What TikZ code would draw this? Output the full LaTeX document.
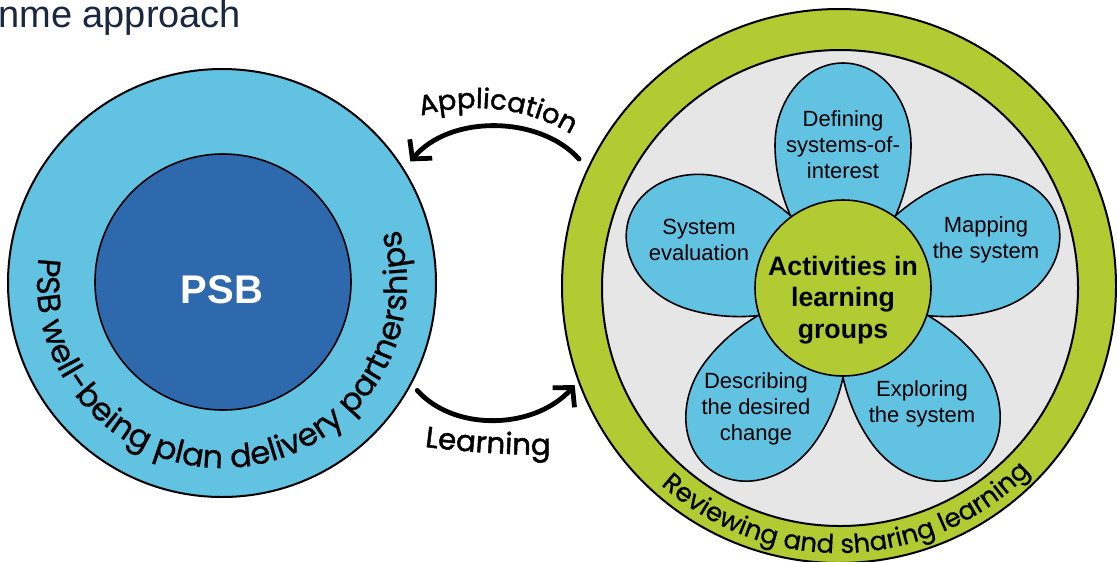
\documentclass[tikz,border=0pt]{standalone}
\usepackage{fontspec}
\setmainfont{Liberation Sans}
\newfontfamily\ringfont[FakeBold=0.6]{Poppins}
\newfontfamily\arrowfont[FakeBold=1.6]{Poppins}
\usetikzlibrary{decorations.text,arrows.meta}

\definecolor{ringblue}{HTML}{62C2E2}
\definecolor{psbblue}{HTML}{2E69AD}
\definecolor{leafgreen}{HTML}{B2CB32}
\definecolor{panelgrey}{HTML}{E6E6E6}
\definecolor{headnavy}{HTML}{1B2740}

\tikzset{
    petal/.pic={
        \draw[fill=ringblue, line width=1.2pt] (0,0) .. controls (40,45) and (95,68) .. (143,68)
            arc[start angle=90, end angle=-90, x radius=82, y radius=68]
            .. controls (95,-68) and (40,-45) .. cycle;
    }
}

\begin{document}
\begin{tikzpicture}[x=0.75pt, y=0.75pt,
        ring/.style={circle, draw=black, line width=1.5pt, inner sep=0pt, outer sep=0pt},
        petal text/.style={align=center, font=\fontsize{16.5}{19.5}\selectfont},
        loop arrow/.style={line width=3.6pt, line cap=round, -{Straight Barb[length=10pt, width=22pt]}}]
            \useasboundingbox (0,0) rectangle (1117,-561);

            \node[anchor=base west, inner sep=0pt, text=headnavy, font=\fontsize{28.5}{34}\selectfont] (title) at (-2,-27) {nme approach};

            \node[ring, fill=ringblue, minimum size=321pt] (partners) at (222,-283) {};
            \node[ring, fill=psbblue, minimum size=192pt, line width=1.2pt] (psb) at (223,-282) {};
            \node[text=white, font=\bfseries\fontsize{30}{36}\selectfont] (psblabel) at (222,-290) {PSB};
            \path[decorate, decoration={text along path, text align=center,
                text={|\ringfont\fontsize{24}{28}\selectfont|PSB well-being plan delivery partnerships}}]
                ([shift={(104.5:185)}]partners.center) arc[start angle=104.5, end angle=444.5, radius=185];

            \node[ring, fill=leafgreen, minimum size=415.5pt] (review) at (839,-286) {};
            \node[ring, fill=panelgrey, minimum size=357pt] (groups) at (840,-288) {};
            \path[decorate, decoration={text along path, text align=center,
                text={|\ringfont\fontsize{19.5}{24}\selectfont|Reviewing and sharing learning}}]
                ([shift={(192:267)}]review.center) arc[start angle=192, end angle=352, radius=267];

            \pic[rotate=90] at (843,-288) {petal};
            \pic[rotate=18] at (843,-288) {petal};
            \pic[rotate=-54] at (843,-288) {petal};
            \pic[rotate=-126] at (843,-288) {petal};
            \pic[rotate=162] at (843,-288) {petal};

            \node[ring, fill=leafgreen, minimum size=132pt, line width=1.2pt] (hub) at (843,-288) {};
            \node[align=center, font=\bfseries\fontsize{20}{23.5}\selectfont] (hublabel) at (843,-300) {Activities in\\learning\\groups};

            \node[petal text] (defining) at (843,-145) {Defining\\systems-of-\\interest};
            \node[petal text] (mapping) at (986,-240) {Mapping\\the system};
            \node[petal text] (exploring) at (922,-404) {Exploring\\the system};
            \node[petal text] (describing) at (756,-409) {Describing\\the desired\\change};
            \node[petal text] (evaluation) at (699,-240) {System\\evaluation};

            \draw[loop arrow, shorten <=10pt, shorten >=8pt] (review.155) to[out=132, in=50] (partners.32);
            \draw[loop arrow, shorten <=7pt, shorten >=4.5pt] (partners.-28) to[out=-48, in=228] (review.200);

            \coordinate (appcentre) at (475,-298);
            \coordinate (learncentre) at (552,545);
            \path[decorate, decoration={text along path, text align=center,
                text={|\arrowfont\fontsize{20.5}{24}\selectfont|Application}}]
                ([shift={(123:190)}]appcentre) arc[start angle=123, end angle=43, radius=190];
            \path[decorate, decoration={text along path, text align=center,
                text={|\arrowfont\fontsize{22}{26}\selectfont|Learning}}]
                ([shift={(256.3:1000)}]learncentre) arc[start angle=256.3, end angle=276.3, radius=1000];
        \end{tikzpicture}
\end{document}
